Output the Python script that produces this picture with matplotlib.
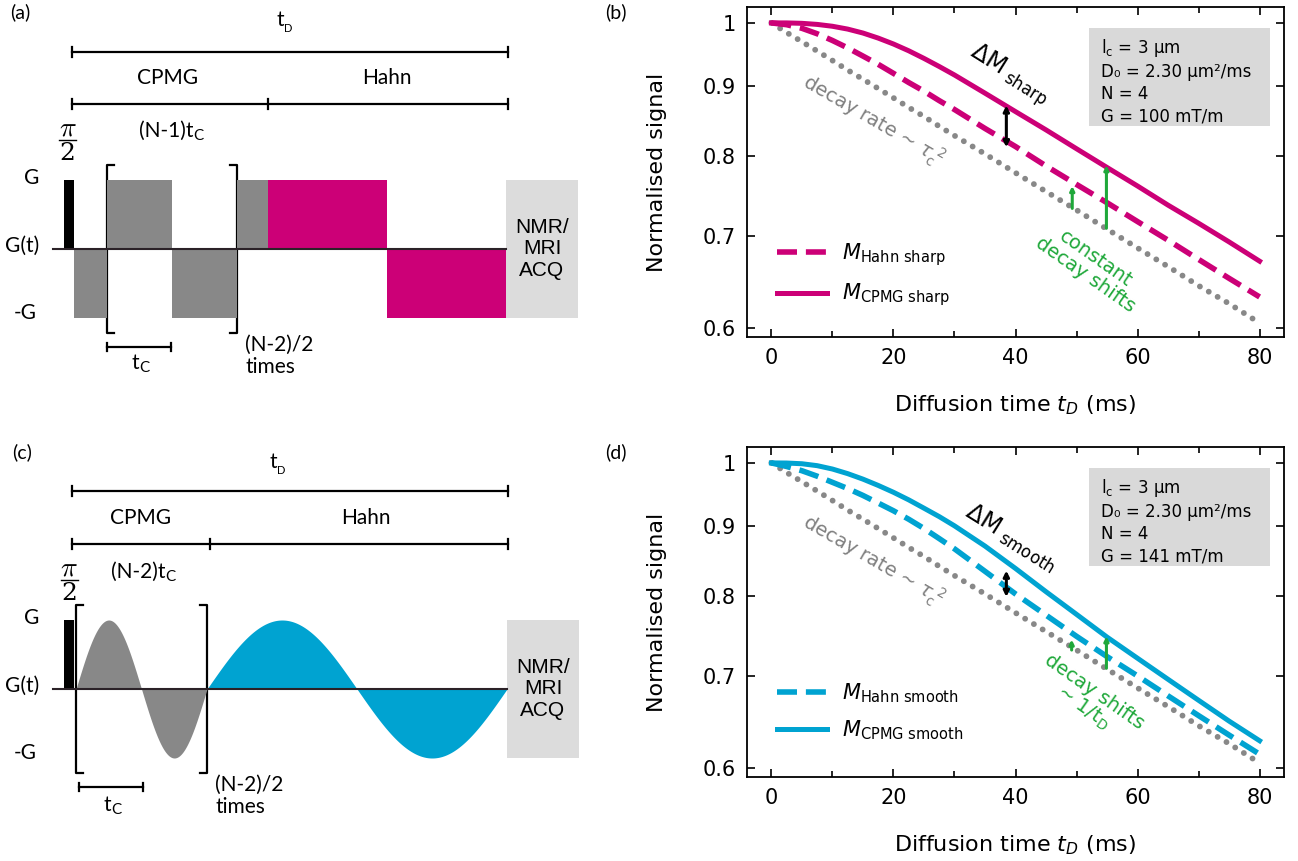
import numpy as np
import matplotlib.pyplot as plt
from matplotlib.ticker import MultipleLocator, NullLocator

plt.rcParams['font.family'] = ['DejaVu Sans']

W, H = 1298, 861

# ---- signal curves (b) and (d) ----
t_ms = [0, 2.5, 5, 7.5, 10, 12.5, 15, 17.5, 20, 22.5, 25, 27.5, 30,
        35, 40, 45, 50, 55, 60, 65, 70, 75, 80]
m_free = [1.000, 0.984, 0.969, 0.954, 0.939, 0.924, 0.910, 0.896, 0.882, 0.868, 0.855, 0.841, 0.828,
          0.803, 0.778, 0.754, 0.731, 0.708, 0.686, 0.665, 0.644, 0.625, 0.605]
m_hahn_sharp = [1.000, 0.997, 0.991, 0.982, 0.971, 0.959, 0.946, 0.933, 0.919, 0.905, 0.892, 0.878, 0.865,
                0.838, 0.813, 0.787, 0.763, 0.740, 0.717, 0.695, 0.673, 0.652, 0.632]
m_cpmg_sharp = [1.000, 1.000, 0.9993, 0.9975, 0.9944, 0.9897, 0.9832, 0.9749, 0.9653, 0.9544, 0.9423,
                0.9296, 0.9165, 0.889, 0.862, 0.836, 0.810, 0.785, 0.761, 0.737, 0.715, 0.693, 0.671]
m_hahn_smooth = [1.000, 0.994, 0.987, 0.978, 0.968, 0.958, 0.947, 0.935, 0.923, 0.910, 0.896, 0.881, 0.866,
                 0.834, 0.803, 0.775, 0.748, 0.723, 0.700, 0.677, 0.655, 0.634, 0.614]
m_cpmg_smooth = [1.000, 0.9998, 0.9986, 0.9954, 0.9898, 0.9822, 0.9732, 0.963, 0.952, 0.940, 0.927,
                 0.914, 0.900, 0.870, 0.838, 0.806, 0.776, 0.747, 0.721, 0.696, 0.672, 0.649, 0.628]

# arrows: (t, bottom, top)
delta_sharp = (38.5, 0.812, 0.871)
shifts_sharp = [(49.3, 0.733, 0.761), (54.9, 0.709, 0.788)]
delta_smooth = (38.5, 0.799, 0.835)
shifts_smooth = [(49.2, 0.731, 0.744), (54.9, 0.709, 0.748)]

info_sharp = ['l$_\\mathregular{c}$ = 3 μm', 'D₀ = 2.30 μm²/ms', 'N = 4', 'G = 100 mT/m']
info_smooth = ['l$_\\mathregular{c}$ = 3 μm', 'D₀ = 2.30 μm²/ms', 'N = 4', 'G = 141 mT/m']

y_ticks = [0.6, 0.7, 0.8, 0.9, 1.0]
y_ticklabels = ['0.6', '0.7', '0.8', '0.9', '1']

# ---- pulse sequence sketches (pixel units of the figure) ----
a_edges = [74, 107, 172, 236.5, 268, 387, 506]
a_signs = [-1, 1, -1, 1, 1, -1]
a_kind = ['cpmg', 'cpmg', 'cpmg', 'cpmg', 'hahn', 'hahn']

MAGENTA = '#cc0077'
BLUE = '#00a3d1'
GREY = '#888888'
GREEN = '#1fa83a'
BOX = '#dcdcdc'

fig = plt.figure(figsize=(W / 100, H / 100), dpi=100)
ov = fig.add_axes([0, 0, 1, 1])
ov.set_xlim(0, W)
ov.set_ylim(H, 0)
ov.axis('off')


def span_bar(x0, x1, y, mid=None):
    ov.plot([x0, x1], [y, y], color='k', lw=1.6)
    for xx in [x0, x1] + ([mid] if mid else []):
        ov.plot([xx, xx], [y - 5, y + 5], color='k', lw=1.6)


def sub_label(xj, y, main, sub, size, subsize, dy):
    ov.text(xj, y, main, ha='right', va='center', fontsize=size, family='Lato')
    ov.text(xj, y + dy, sub, ha='left', va='center', fontsize=subsize, family='Lato')


def bracket(x, y0, y1, side):
    s = 7 if side == 'left' else -7
    ov.plot([x + s, x, x, x + s], [y0, y0, y1, y1], color='k', lw=1.6)


def half_pi(x, y):
    # pi over 2 label above the excitation pulse
    ov.text(x, y - 12, r'$\pi$', ha='center', va='center', fontsize=20, math_fontfamily='cm')
    ov.plot([x - 8.5, x + 8.5], [y, y], color='k', lw=1.0)
    ov.text(x, y + 14, '2', ha='center', va='center', fontsize=18, family='DejaVu Serif')


def common_sketch(y_top, y_mid, y_G, y_0, y_mG, x_split, pulse_x, br, tc, times_x, acq_x1,
                  pi_xy, lab):
    span_bar(72, 508, y_top)
    span_bar(72, 508, y_mid, x_split)
    ov.text(lab[0], lab[1], lab[2], ha='center', va='center', fontsize=14, family='Lato')
    ov.text(31.5, y_G - 2, 'G', ha='center', va='center', fontsize=15, family='Lato')
    ov.text(22, y_0 - 3, 'G(t)', ha='center', va='center', fontsize=15, family='Lato')
    ov.text(25, y_mG - 5, '-G', ha='center', va='center', fontsize=15, family='Lato')
    ov.bar(pulse_x[0], y_G - y_0, width=pulse_x[1] - pulse_x[0], bottom=y_0,
           align='edge', color='k', zorder=3)
    half_pi(*pi_xy)
    bracket(br[0], y_G - 15, y_mG + 15, 'left')
    bracket(br[1], y_G - 15, y_mG + 15, 'right')
    ov.plot([tc[0], tc[1]], [y_mG + 29, y_mG + 29], color='k', lw=1.6)
    for xx in tc:
        ov.plot([xx, xx], [y_mG + 25, y_mG + 33], color='k', lw=1.6)
    ov.text(times_x, y_mG + 27, '(N-2)/2', ha='left', va='center', fontsize=15, family='Lato')
    ov.text(times_x, y_mG + 49, 'times', ha='left', va='center', fontsize=15, family='Lato')
    ov.bar(acq_x1, y_mG - y_G, width=72, bottom=y_G, align='edge', color=BOX, zorder=1)
    ov.text(acq_x1 + 36, y_0, 'NMR/\nMRI\nACQ', ha='center', va='center',
            fontsize=15, family='Liberation Sans', linespacing=1.15)
    ov.plot([53, acq_x1], [y_0, y_0], color='#2b2228', lw=1.5, zorder=4)


# panel (a)
yG, y0, ymG = 180, 249, 318
common_sketch(52, 104, yG, y0, ymG, 268, (64, 74), (107, 236.5), (107, 171),
              245, 506, (67.5, 140), (20, 12, '(a)'))
for x0, x1, s, k in zip(a_edges[:-1], a_edges[1:], a_signs, a_kind):
    lvl = yG if s > 0 else ymG
    ov.bar(x0, lvl - y0, width=x1 - x0, bottom=y0, align='edge',
           color=GREY if k == 'cpmg' else MAGENTA, zorder=2)
sub_label(284, 20, 't', 'D', 15, 8, 8)
ov.text(168, 78, 'CPMG', ha='center', va='center', fontsize=15, family='Lato')
ov.text(387, 78, 'Hahn', ha='center', va='center', fontsize=15, family='Lato')
sub_label(193.5, 131, '(N-1)t', 'C', 15, 11, 5)
sub_label(139, 363, 't', 'C', 15, 11, 5)

# panel (c)
yG, y0, ymG = 620, 689, 758
common_sketch(491, 544, yG, y0, ymG, 210, (64, 74), (76, 207), (78.5, 142.5),
              215, 507, (69, 580), (22, 452, '(c)'))
xg = np.linspace(76, 207, 200)
xb = np.linspace(207, 507, 300)
amp = y0 - yG
ov.fill_between(xg, y0, y0 - amp * np.sin(2 * np.pi * (xg - 76) / 131), color=GREY, lw=0, zorder=2)
ov.fill_between(xb, y0, y0 - amp * np.sin(2 * np.pi * (xb - 207) / 300), color=BLUE, lw=0, zorder=2)
sub_label(277, 462, 't', 'D', 15, 8, 8)
ov.text(141, 518, 'CPMG', ha='center', va='center', fontsize=15, family='Lato')
ov.text(366, 518, 'Hahn', ha='center', va='center', fontsize=15, family='Lato')
sub_label(165.5, 572, '(N-2)t', 'C', 15, 11, 5)
sub_label(111.5, 805, 't', 'C', 15, 11, 5)

ov.text(616, 12, '(b)', ha='center', va='center', fontsize=14, family='Lato')
ov.text(616, 452, '(d)', ha='center', va='center', fontsize=14, family='Lato')


def signal_panel(rect, hahn, cpmg, color, name, delta, shifts, info, dm_xy, shift_txt, shift_xy):
    ax = fig.add_axes(rect)
    ax.set_yscale('log')
    ax.plot(t_ms, m_free, color=GREY, lw=4.2, linestyle=(0, (0.01, 1.75)),
            dash_capstyle='round', zorder=2)
    ax.plot(t_ms, hahn, color=color, lw=4, linestyle=(0, (3.6, 1.6)),
            label=r'$M_{\mathrm{Hahn\ %s}}$' % name, zorder=3)
    ax.plot(t_ms, cpmg, color=color, lw=3.6,
            label=r'$M_{\mathrm{CPMG\ %s}}$' % name, zorder=3)
    ax.set_xlim(-4, 84)
    ax.set_ylim(0.591, 1.027)
    ax.set_yticks(y_ticks)
    ax.set_yticklabels(y_ticklabels)
    ax.yaxis.set_minor_locator(NullLocator())
    ax.xaxis.set_major_locator(MultipleLocator(20))
    ax.xaxis.set_minor_locator(MultipleLocator(10))
    ax.tick_params(which='both', direction='in', top=True, right=True, width=1.2, labelsize=15, pad=8)
    ax.tick_params(which='major', length=6)
    ax.tick_params(which='minor', length=4)
    for sp in ax.spines.values():
        sp.set_linewidth(1.3)
    ax.set_ylabel('Normalised signal', fontsize=16, labelpad=26)
    ax.set_xlabel(r'Diffusion time $t_D$ (ms)', fontsize=16, labelpad=18)

    ax.annotate('', xy=(delta[0], delta[2]), xytext=(delta[0], delta[1]),
                arrowprops=dict(arrowstyle='<->', color='k', lw=2.2, shrinkA=0, shrinkB=0,
                                mutation_scale=8), zorder=5)
    for x, lo, hi in shifts:
        ax.annotate('', xy=(x, hi), xytext=(x, lo),
                    arrowprops=dict(arrowstyle='->', color=GREEN, lw=2.2, shrinkA=0, shrinkB=0,
                                    mutation_scale=6), zorder=5)

    ax.text(dm_xy[0], dm_xy[1], r'$\Delta\mathrm{M}_{\ \mathrm{%s}}$' % name, rotation=-32,
            ha='center', va='center', rotation_mode='anchor', fontsize=17)
    ax.text(16.6, 0.849, r'decay rate ~ $\tau_\mathrm{c}^{\ 2}$', rotation=-30, color='#808080',
            ha='center', va='center', rotation_mode='anchor', fontsize=14)
    ax.text(shift_xy[0], shift_xy[1], shift_txt, rotation=-35, color=GREEN, ha='center',
            va='center', rotation_mode='anchor', fontsize=14, multialignment='center',
            linespacing=1.0)

    ax.add_patch(plt.Rectangle((0.637, 0.639), 0.337, 0.297, transform=ax.transAxes,
                               color='#d9d9d9', lw=0, zorder=1))
    ax.text(0.66, 0.91, '\n'.join(info), transform=ax.transAxes, ha='left', va='top',
            fontsize=12, linespacing=1.3, zorder=2)

    ax.legend(loc='upper left', bbox_to_anchor=(0.056, 0.29), frameon=False, fontsize=15,
              handlelength=2.4, handletextpad=0.7, labelspacing=0.65, borderpad=0,
              borderaxespad=0)
    return ax


signal_panel([747 / W, (H - 337) / H, 537 / W, 330 / H], m_hahn_sharp, m_cpmg_sharp, MAGENTA,
             'sharp', delta_sharp, shifts_sharp, info_sharp, (39.0, 0.917),
             'constant\ndecay shifts', (52.3, 0.665))
signal_panel([747 / W, (H - 777) / H, 537 / W, 330 / H], m_hahn_smooth, m_cpmg_smooth, BLUE,
             'smooth', delta_smooth, shifts_smooth, info_smooth, (39.3, 0.883),
             'decay shifts\n~ 1/t$_\\mathregular{D}$', (52.0, 0.672))

fig.savefig('out.png', dpi=100)
